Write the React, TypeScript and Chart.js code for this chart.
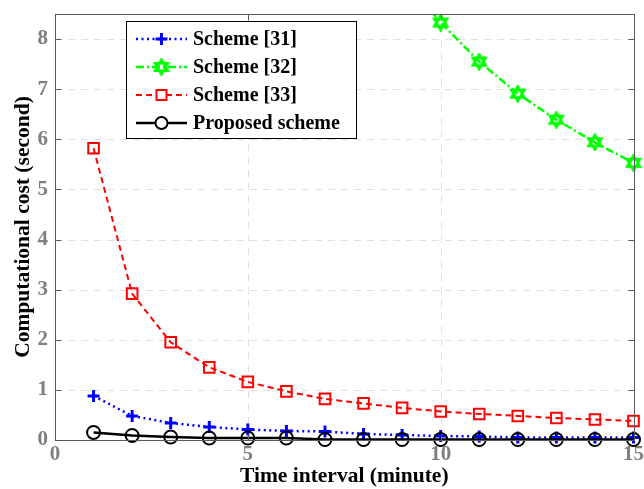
import React, { useEffect, useRef } from "react";
import { Chart, registerables } from "chart.js";

Chart.register(...registerables);

const timeIntervals = [1, 2, 3, 4, 5, 6, 7, 8, 9, 10, 11, 12, 13, 14, 15];
const scheme31 = [0.88, 0.48, 0.34, 0.26, 0.21, 0.18, 0.17, 0.12, 0.1, 0.08, 0.07, 0.05, 0.05, 0.05, 0.05];
const scheme32 = [83.2, 41.6, 27.7, 20.8, 16.6, 13.9, 11.9, 10.4, 9.25, 8.33, 7.55, 6.91, 6.39, 5.94, 5.53];
const scheme33 = [5.82, 2.92, 1.95, 1.45, 1.16, 0.97, 0.82, 0.73, 0.64, 0.57, 0.52, 0.48, 0.44, 0.41, 0.38];
const proposed = [0.15, 0.09, 0.06, 0.04, 0.04, 0.04, 0.01, 0.01, 0.01, 0.01, 0.01, 0.01, 0.01, 0.01, 0.01];
const seriesLabels = ["Scheme [31]", "Scheme [32]", "Scheme [33]", "Proposed scheme"];
const xTickValues = [0, 5, 10, 15];
const yTickValues = [0, 1, 2, 3, 4, 5, 6, 7, 8];
const yTitle = "Computational cost (second)";
const xTitle = "Time interval (minute)";

const FONT = "'Liberation Serif', 'Times New Roman', serif";

function hexagramPath(ctx: CanvasRenderingContext2D, cx: number, cy: number, r: number) {
  ctx.beginPath();
  for (let t = 0; t < 2; t++) {
    for (let i = 0; i < 3; i++) {
      const a = -Math.PI / 2 + t * Math.PI + (i * 2 * Math.PI) / 3;
      const px = cx + r * Math.cos(a);
      const py = cy + r * Math.sin(a);
      if (i === 0) ctx.moveTo(px, py);
      else ctx.lineTo(px, py);
    }
    ctx.closePath();
  }
}

function makeHexagram(): HTMLCanvasElement {
  const c = document.createElement("canvas");
  c.width = 18;
  c.height = 18;
  const ctx = c.getContext("2d")!;
  ctx.strokeStyle = "#00ff00";
  ctx.lineWidth = 2.5;
  ctx.lineJoin = "miter";
  hexagramPath(ctx, 9, 9, 7.5);
  ctx.stroke();
  return c;
}

const frameAndGrid = {
  id: "frameAndGrid",
  beforeDatasetsDraw(chart: any) {
    const { ctx, chartArea: a, scales } = chart;
    const xs = scales.x;
    const ys = scales.y;
    ctx.save();
    ctx.strokeStyle = "#e0e0e0";
    ctx.lineWidth = 1;
    ctx.setLineDash([7, 6]);
    yTickValues.forEach((v) => {
      if (v === 0) return;
      const y = Math.round(ys.getPixelForValue(v)) + 0.5;
      ctx.beginPath();
      ctx.moveTo(a.left, y);
      ctx.lineTo(a.right, y);
      ctx.stroke();
    });
    xTickValues.forEach((v) => {
      if (v === 0 || v === 15) return;
      const x = Math.round(xs.getPixelForValue(v)) + 0.5;
      ctx.beginPath();
      ctx.moveTo(x, a.top);
      ctx.lineTo(x, a.bottom);
      ctx.stroke();
    });
    ctx.restore();
  },
  afterDatasetsDraw(chart: any) {
    const { ctx, chartArea: a, scales } = chart;
    const xs = scales.x;
    const ys = scales.y;
    ctx.save();
    ctx.setLineDash([]);
    ctx.strokeStyle = "#5a5a5a";
    ctx.lineWidth = 1;
    const L = Math.round(a.left) + 0.5;
    const R = Math.round(a.right) + 0.5;
    const T = Math.round(a.top) + 0.5;
    const B = Math.round(a.bottom) + 0.5;
    ctx.strokeRect(L, T, R - L, B - T);
    ctx.beginPath();
    yTickValues.forEach((v) => {
      const y = Math.round(ys.getPixelForValue(v)) + 0.5;
      ctx.moveTo(L, y);
      ctx.lineTo(L + 6, y);
      ctx.moveTo(R, y);
      ctx.lineTo(R - 6, y);
    });
    xTickValues.forEach((v) => {
      const x = Math.round(xs.getPixelForValue(v)) + 0.5;
      ctx.moveTo(x, B);
      ctx.lineTo(x, B - 6);
      ctx.moveTo(x, T);
      ctx.lineTo(x, T + 6);
    });
    ctx.stroke();
    ctx.restore();
  },
  afterDraw(chart: any) {
    const { ctx, chartArea: a } = chart;
    // y-axis title
    ctx.save();
    ctx.translate(29, (a.top + a.bottom) / 2);
    ctx.rotate(-Math.PI / 2);
    ctx.fillStyle = "#000000";
    ctx.font = `bold 21.5px ${FONT}`;
    ctx.textAlign = "center";
    ctx.textBaseline = "alphabetic";
    ctx.fillText(yTitle, 0, 0);
    ctx.restore();

    // legend
    const bx = 126.5, by = 21.5, bw = 230, bh = 117;
    ctx.save();
    ctx.fillStyle = "#ffffff";
    ctx.fillRect(bx, by, bw, bh);
    ctx.strokeStyle = "#000000";
    ctx.lineWidth = 1;
    ctx.setLineDash([]);
    ctx.strokeRect(bx, by, bw, bh);
    const rows = [39, 67, 95, 123];
    const x0 = 136, x1 = 187, xm = (x0 + x1) / 2;
    chart.data.datasets.forEach((ds: any, i: number) => {
      const y = rows[i];
      ctx.save();
      ctx.strokeStyle = ds.borderColor;
      ctx.lineWidth = ds.borderWidth;
      ctx.setLineDash(ds.borderDash || []);
      ctx.beginPath();
      ctx.moveTo(x0, y);
      ctx.lineTo(x1, y);
      ctx.stroke();
      ctx.setLineDash([]);
      ctx.lineWidth = ds.pointBorderWidth;
      const ps = ds.pointStyle;
      if (ps === "cross") {
        ctx.beginPath();
        ctx.moveTo(xm - 6, y);
        ctx.lineTo(xm + 6, y);
        ctx.moveTo(xm, y - 6);
        ctx.lineTo(xm, y + 6);
        ctx.stroke();
      } else if (ps === "rect") {
        ctx.fillStyle = "#ffffff";
        ctx.fillRect(xm - 5, y - 5, 10, 10);
        ctx.strokeRect(xm - 5, y - 5, 10, 10);
      } else if (ps === "circle") {
        ctx.fillStyle = "#ffffff";
        ctx.beginPath();
        ctx.arc(xm, y, 6, 0, Math.PI * 2);
        ctx.fill();
        ctx.stroke();
      } else {
        ctx.drawImage(ps, xm - 9, y - 9);
      }
      ctx.restore();
      ctx.fillStyle = "#000000";
      ctx.font = `bold 20px ${FONT}`;
      ctx.textBaseline = "middle";
      ctx.textAlign = "left";
      ctx.fillText(ds.label, 193, y + 1);
    });
    ctx.restore();
  },
};

export default function App() {
  const canvasRef = useRef<HTMLCanvasElement | null>(null);

  useEffect(() => {
    document.body.style.margin = "0";
    const canvas = canvasRef.current!;
    const hex = makeHexagram();
    const toPts = (arr: number[]) => arr.map((v, i) => ({ x: timeIntervals[i], y: v }));
    const clip = { left: 12, right: 12, top: 0, bottom: 12 };
    const chart = new Chart(canvas, {
      type: "line",
      data: {
        datasets: [
          {
            label: seriesLabels[0],
            data: toPts(scheme31),
            borderColor: "#0000ff",
            backgroundColor: "#0000ff",
            borderWidth: 2.5,
            borderDash: [2, 3.5],
            pointStyle: "cross",
            pointRadius: 6,
            pointBorderWidth: 3,
            pointBorderColor: "#0000ff",
            tension: 0,
            clip,
            order: 1,
          } as any,
          {
            label: seriesLabels[1],
            data: toPts(scheme32),
            borderColor: "#00ff00",
            backgroundColor: "#00ff00",
            borderWidth: 2.5,
            borderDash: [8, 3, 2, 3],
            pointStyle: hex,
            pointRadius: 8,
            pointBorderWidth: 2.5,
            tension: 0,
            clip,
            order: 3,
          } as any,
          {
            label: seriesLabels[2],
            data: toPts(scheme33),
            borderColor: "#ff0000",
            backgroundColor: "#ffffff",
            borderWidth: 2,
            borderDash: [6, 4],
            pointStyle: "rect",
            pointRadius: 7.5,
            pointBorderWidth: 2,
            pointBorderColor: "#ff0000",
            pointBackgroundColor: "rgba(255,255,255,0)",
            tension: 0,
            clip,
            order: 2,
          } as any,
          {
            label: seriesLabels[3],
            data: toPts(proposed),
            borderColor: "#000000",
            backgroundColor: "#000000",
            borderWidth: 2.5,
            pointStyle: "circle",
            pointRadius: 6.5,
            pointBorderWidth: 2,
            pointBorderColor: "#000000",
            pointBackgroundColor: "rgba(255,255,255,0)",
            tension: 0,
            clip,
            order: 0,
          } as any,
        ],
      },
      options: {
        animation: false,
        responsive: true,
        maintainAspectRatio: false,
        layout: { padding: { top: 14, right: 9, left: 0, bottom: 0 } },
        plugins: { legend: { display: false }, tooltip: { enabled: false } },
        scales: {
          x: {
            type: "linear",
            min: 0,
            max: 15,
            afterBuildTicks: (s: any) => {
              s.ticks = xTickValues.map((v) => ({ value: v }));
            },
            afterFit: (s: any) => {
              s.height = 49;
              s.paddingLeft = 0;
              s.paddingRight = 0;
            },
            grid: { display: false, drawTicks: false },
            border: { display: false },
            ticks: {
              color: "#808080",
              font: { family: FONT, size: 21, weight: "bold" },
              padding: 2,
              maxRotation: 0,
              autoSkip: false,
            },
            title: {
              display: true,
              text: xTitle,
              color: "#000000",
              font: { family: FONT, size: 21.5, weight: "bold" },
              padding: { top: 0, bottom: 0 },
            },
          },
          y: {
            type: "linear",
            min: 0,
            max: 8.5,
            afterBuildTicks: (s: any) => {
              s.ticks = yTickValues.map((v) => ({ value: v }));
            },
            afterFit: (s: any) => {
              s.width = 55;
              s.paddingTop = 0;
              s.paddingBottom = 0;
            },
            grid: { display: false, drawTicks: false },
            border: { display: false },
            ticks: {
              color: "#808080",
              font: { family: FONT, size: 21, weight: "bold" },
              padding: 7,
              autoSkip: false,
            },
            title: { display: false },
          },
        },
      },
      plugins: [frameAndGrid],
    });
    return () => chart.destroy();
  }, []);

  return (
    <div style={{ position: "absolute", left: 0, top: 0, width: 644, height: 489 }}>
      <canvas ref={canvasRef} />
    </div>
  );
}
